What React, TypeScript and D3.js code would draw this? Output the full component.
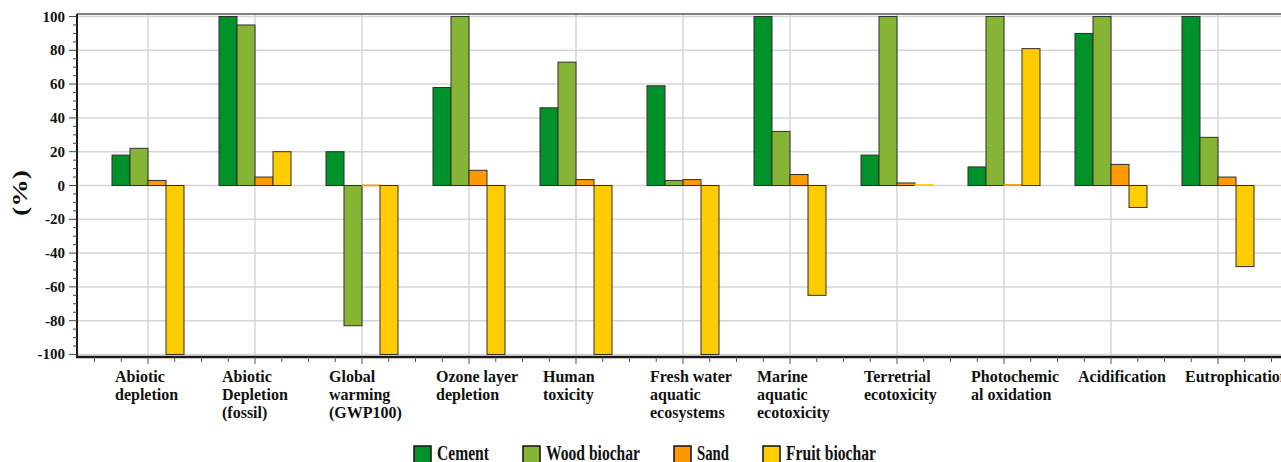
import React from 'react';
import * as d3 from 'd3';

// Impact categories (each entry is the wrapped lines of the axis label)
const categoryLines: string[][] = [
  ['Abiotic', 'depletion'],
  ['Abiotic', 'Depletion', '(fossil)'],
  ['Global', 'warming', '(GWP100)'],
  ['Ozone layer', 'depletion'],
  ['Human', 'toxicity'],
  ['Fresh water', 'aquatic', 'ecosystems'],
  ['Marine', 'aquatic', 'ecotoxicity'],
  ['Terretrial', 'ecotoxicity'],
  ['Photochemic', 'al oxidation'],
  ['Acidification'],
  ['Eutrophication'],
];
const categories = categoryLines.map((l) => l.join(' '));

const seriesNames = ['Cement', 'Wood biochar', 'Sand', 'Fruit biochar'];

// Relative contribution (%) per impact category
const cement = [18, 100, 20, 58, 46, 59, 100, 18, 11, 90, 100];
const woodBiochar = [22, 95, -83, 100, 73, 3, 32, 100, 100, 100, 28.5];
const sand = [3, 5, 0.3, 9, 3.5, 3.5, 6.5, 1.5, 0.5, 12.5, 5];
const fruitBiochar = [-100, 20, -100, -100, -100, -100, -65, 0.5, 81, -13, -48];

const yTicks = [100, 80, 60, 40, 20, 0, -20, -40, -60, -80, -100];

const seriesValues = [cement, woodBiochar, sand, fruitBiochar];
const seriesColors = ['#00922A', '#86B535', '#FF9900', '#FFCC00'];

const W = 1281;
const H = 462;
const plotLeft = 77;
const plotTop = 14;
const plotBottom = 357;
const plotRight = 1290;

export default function App() {
  const x = d3
    .scaleBand<string>()
    .domain(categories)
    .range([94.5, 94.5 + 107 * categories.length]);
  const xs = d3
    .scaleBand<string>()
    .domain(seriesNames)
    .range([17.5, x.bandwidth() - 17.5]);
  const y = d3.scaleLinear().domain([-101.5, 101.5]).range([plotBottom, plotTop]);

  const minorY = d3.range(-100, 101, 5);
  const centers = categories.map((c) => (x(c) as number) + x.bandwidth() / 2);
  // quarter-band ticks along the category axis; majors fall on band centres
  const minorX = d3
    .range(0, categories.length * 4 + 1)
    .map((j) => ({ pos: (x.range()[0] as number) + (j * x.bandwidth()) / 4, major: (j + 2) % 4 === 0 }));

  const legendText = [52, 94, 32, 90];
  let cursor = 414;
  const legendItems = seriesNames.map((name, i) => {
    const bx = cursor;
    cursor = bx + 23 + legendText[i] + 34;
    return { name, bx, color: seriesColors[i], len: legendText[i] };
  });

  const font = '"Liberation Serif", "Times New Roman", serif';

  return (
    <svg
      width={W}
      height={H}
      style={{ position: 'fixed', left: 0, top: 0, background: '#fff' }}
      fontFamily={font}
      fontWeight="bold"
    >
      {/* grid */}
      {yTicks.map((t) => (
        <line key={'gy' + t} x1={plotLeft} x2={plotRight} y1={y(t)} y2={y(t)} stroke="#d6d6d6" strokeWidth={1.5} />
      ))}
      {centers.map((cx, i) => (
        <line key={'gx' + i} x1={cx} x2={cx} y1={plotTop} y2={plotBottom} stroke="#d6d6d6" strokeWidth={1.5} />
      ))}

      {/* bars */}
      {seriesValues.map((vals, si) =>
        vals.map((v, ci) => {
          const bx = (x(categories[ci]) as number) + (xs(seriesNames[si]) as number);
          const y0 = y(Math.max(0, v));
          const h = Math.abs(y(v) - y(0));
          const thin = h < 1.5;
          return (
            <rect
              key={si + '-' + ci}
              x={bx}
              y={y0}
              width={xs.bandwidth()}
              height={Math.max(h, 0.8)}
              fill={seriesColors[si]}
              stroke={thin ? seriesColors[si] : '#2e2e2e'}
              strokeWidth={1}
            />
          );
        })
      )}

      {/* frame */}
      <line x1={plotLeft} x2={plotRight} y1={plotTop} y2={plotTop} stroke="#555" strokeWidth={1.5} />
      <line x1={plotLeft} x2={plotLeft} y1={plotTop} y2={plotBottom + 1} stroke="#1a1a1a" strokeWidth={2} />
      <line x1={plotLeft - 1} x2={plotRight} y1={plotBottom} y2={plotBottom} stroke="#1a1a1a" strokeWidth={2.5} />

      {/* y ticks */}
      {minorY.map((t) => (
        <line
          key={'ty' + t}
          x1={t % 20 === 0 ? plotLeft - 8 : plotLeft - 4}
          x2={plotLeft}
          y1={y(t)}
          y2={y(t)}
          stroke="#444"
          strokeWidth={1}
        />
      ))}
      {yTicks.map((t) => (
        <text key={'ly' + t} x={65} y={y(t) + 5} textAnchor="end" fontSize={15} fill="#111">
          {t}
        </text>
      ))}
      <text
        transform={`translate(27,193) rotate(-90)`}
        textAnchor="middle"
        fontSize={20}
        fill="#111"
        textLength={46}
        lengthAdjust="spacingAndGlyphs"
      >
        (%)
      </text>

      {/* x ticks */}
      {minorX.map((m, i) => (
        <line
          key={'tx' + i}
          x1={m.pos}
          x2={m.pos}
          y1={plotBottom}
          y2={m.major ? plotBottom + 7 : plotBottom + 5}
          stroke="#555"
          strokeWidth={1}
        />
      ))}
      {categoryLines.map((lines, ci) => (
        <text key={'lx' + ci} x={centers[ci] - 33} y={382} fontSize={16} fill="#111">
          {lines.map((ln, li) => (
            <tspan key={li} x={centers[ci] - 33} dy={li === 0 ? 0 : 18}>
              {ln}
            </tspan>
          ))}
        </text>
      ))}

      {/* legend */}
      {legendItems.map((it) => (
        <g key={it.name}>
          <rect x={it.bx} y={446} width={17} height={17} fill={it.color} stroke="#111" strokeWidth={1.5} />
          <text
            x={it.bx + 23}
            y={460}
            fontSize={20}
            fill="#111"
            textLength={it.len}
            lengthAdjust="spacingAndGlyphs"
          >
            {it.name}
          </text>
        </g>
      ))}
    </svg>
  );
}
